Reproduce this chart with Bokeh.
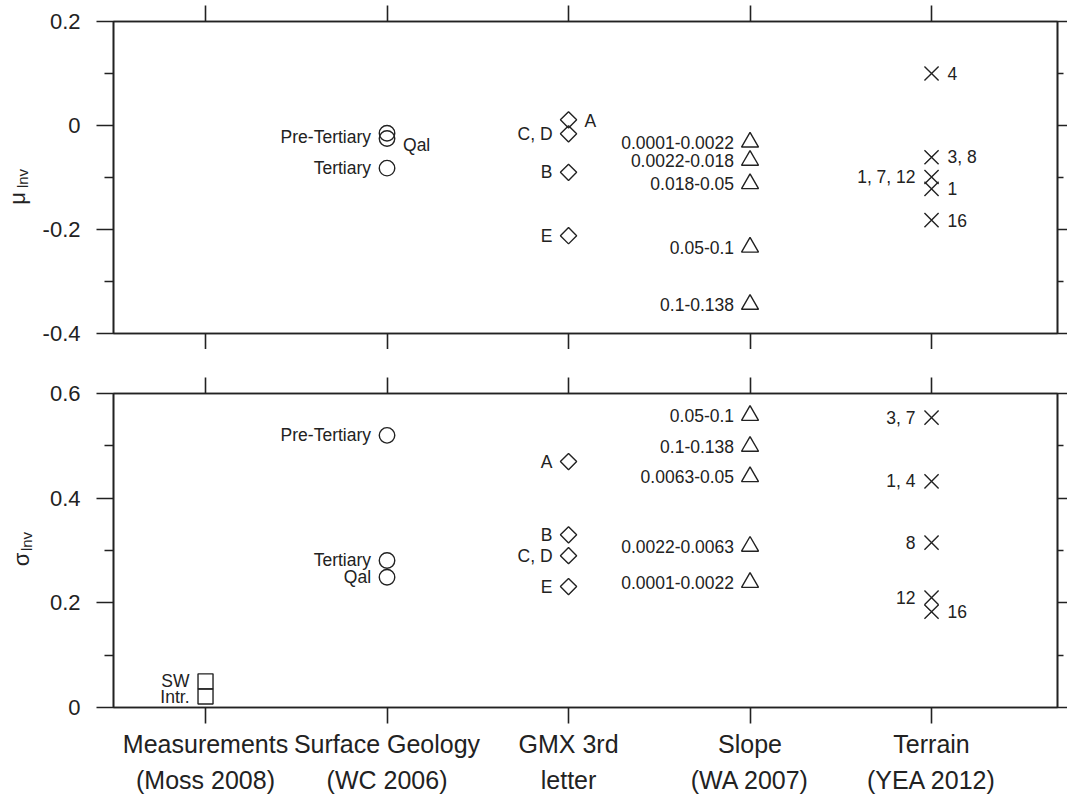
from math import pi
from bokeh.plotting import figure
from bokeh.models import (ColumnDataSource, FixedTicker, LinearAxis, Range1d,
                          CustomLabelingPolicy)
from bokeh.layouts import column, row
from bokeh.embed import file_html
from bokeh.resources import INLINE
from bokeh.core.properties import value

# ---------------- data ----------------
categories = ["Measurements\n(Moss 2008)", "Surface Geology\n(WC 2006)",
              "GMX 3rd\nletter", "Slope\n(WA 2007)", "Terrain\n(YEA 2012)"]
cat_pos = [1, 2, 3, 4, 5]

# top panel: mu_lnv
geo_mu_names = ["Pre-Tertiary", "Qal", "Tertiary"]
geo_mu = [-0.015, -0.025, -0.082]
gmx_mu_names = ["A", "C, D", "B", "E"]
gmx_mu = [0.011, -0.016, -0.090, -0.212]
slope_mu_names = ["0.0001-0.0022", "0.0022-0.018", "0.018-0.05", "0.05-0.1", "0.1-0.138"]
slope_mu = [-0.032, -0.067, -0.112, -0.234, -0.344]
terrain_mu_names = ["4", "3, 8", "1, 7, 12", "1", "16"]
terrain_mu = [0.100, -0.061, -0.099, -0.122, -0.182]

# bottom panel: sigma_lnv
meas_sd_names = ["SW", "Intr."]
meas_sd = [0.050, 0.021]
geo_sd_names = ["Pre-Tertiary", "Tertiary", "Qal"]
geo_sd = [0.520, 0.281, 0.249]
gmx_sd_names = ["A", "B", "C, D", "E"]
gmx_sd = [0.470, 0.330, 0.290, 0.231]
slope_sd_names = ["0.05-0.1", "0.1-0.138", "0.0063-0.05", "0.0022-0.0063", "0.0001-0.0022"]
slope_sd = [0.558, 0.499, 0.441, 0.308, 0.239]
terrain_sd_names = ["3, 7", "1, 4", "8", "12", "16"]
terrain_sd = [0.554, 0.432, 0.315, 0.210, 0.183]

mu_ticks = [-0.4, -0.2, 0, 0.2]
mu_minor = [-0.3, -0.1, 0.1]
mu_tick_labels = ["-0.4", "-0.2", "0", "0.2"]
sd_ticks = [0, 0.2, 0.4, 0.6]
sd_minor = [0.1, 0.3, 0.5]
sd_tick_labels = ["0", "0.2", "0.4", "0.6"]

# ---------------- layout / style ----------------
INK = "#222222"
FONT = "Liberation Sans"
X0, X1 = 0.493, 5.694
FRAME_W = 944
LAB_W = 34          # width of the narrow strip holding the y-axis titles
LEFT_B = 113 - LAB_W

# label side (L = left of marker, R = right) and small pixel shifts
geo_mu_side, geo_mu_dy = ["L", "R", "L"], [4, 6, 0]
gmx_mu_side, gmx_mu_dy = ["R", "L", "L", "L"], [1, 0, 0, 0]
slope_mu_side, slope_mu_dy = ["L"] * 5, [0] * 5
terrain_mu_side, terrain_mu_dy = ["R", "R", "L", "R", "R"], [0, 0, 0, 0, 0]
meas_sd_side, meas_sd_dy = ["L", "L"], [0, 0]
geo_sd_side, geo_sd_dy = ["L", "L", "L"], [0, 0, 0]
gmx_sd_side, gmx_sd_dy = ["L"] * 4, [0] * 4
slope_sd_side, slope_sd_dy = ["L"] * 5, [0] * 5
terrain_sd_side, terrain_sd_dy = ["L", "L", "L", "L", "R"], [0, 0, 0, 0, 0]

HIDE = CustomLabelingPolicy(code="""
try {
  for (const i of Array.from(indices)) {
    if (indices.unset) { indices.unset(i) } else { indices.set(i, false) }
  }
} catch (e) {}
return indices
""")


def style_axis(ax, tick_out, minor_out, show_labels, font_size="22px", standoff=16):
    ax.axis_line_color = INK
    ax.axis_line_width = 1.6
    ax.major_tick_line_color = INK
    ax.major_tick_line_width = 1.6
    ax.minor_tick_line_color = INK
    ax.minor_tick_line_width = 1.6
    ax.major_tick_in = 0
    ax.minor_tick_in = 0
    ax.major_tick_out = tick_out
    ax.minor_tick_out = minor_out
    ax.major_label_text_font = FONT
    ax.major_label_text_color = INK
    if show_labels:
        ax.major_label_text_font_size = font_size
        ax.major_label_standoff = standoff
    else:
        ax.major_label_text_font_size = "0px"
        ax.major_label_standoff = 0
        ax.major_label_policy = HIDE


def make_fig(yr, ticks, minor, tick_labels, frame_h, top_b, bottom_b, top_tick, bottom_labels):
    p = figure(frame_width=FRAME_W, frame_height=frame_h,
               x_range=Range1d(X0, X1), y_range=Range1d(*yr),
               output_backend="svg", toolbar_location=None,
               min_border_left=LEFT_B, min_border_right=10,
               min_border_top=top_b, min_border_bottom=bottom_b,
               x_axis_location=None, y_axis_location=None,
               background_fill_color="white", border_fill_color="white")
    p.grid.visible = False
    p.outline_line_color = INK
    p.outline_line_width = 1.6

    yt = FixedTicker(ticks=ticks, minor_ticks=minor)
    xt = FixedTicker(ticks=cat_pos, minor_ticks=[])

    left = LinearAxis(ticker=yt)
    style_axis(left, 17, 9, True)
    left.major_label_overrides = {t: s for t, s in zip(ticks, tick_labels)}
    p.add_layout(left, "left")

    right = LinearAxis(ticker=yt)
    style_axis(right, 10, 6, False)
    p.add_layout(right, "right")

    top = LinearAxis(ticker=xt)
    style_axis(top, top_tick, 0, False)
    p.add_layout(top, "above")

    bottom = LinearAxis(ticker=xt)
    if bottom_labels:
        style_axis(bottom, 16, 0, True, font_size="25px", standoff=6)
        bottom.major_label_overrides = {c: s for c, s in zip(cat_pos, categories)}
        bottom.major_label_text_line_height = 1.3
    else:
        style_axis(bottom, 16, 0, False)
    p.add_layout(bottom, "below")
    return p


def add_group(p, xpos, ys, names, sides, dys, marker, size, angle=0.0):
    src = ColumnDataSource(dict(
        x=[xpos] * len(ys), y=ys, t=names,
        xo=[-16 if s == "L" else 16 for s in sides],
        al=["right" if s == "L" else "left" for s in sides],
        yo=dys))
    p.scatter("x", "y", source=src, marker=marker, size=size, angle=angle,
              fill_color=None, line_color=INK, line_width=1.4)
    p.text("x", "y", text="t", source=src, x_offset="xo", y_offset="yo",
           text_align="al", text_baseline="middle",
           text_font=value(FONT), text_font_size=value("17.5px"), text_color=INK)


# ---------------- top panel ----------------
TOP_B1, FH1, BOT_B1 = 21, 312, 16
TOP_B2, FH2, BOT_B2 = 44, 314, 92
p1 = make_fig((-0.4, 0.2), mu_ticks, mu_minor, mu_tick_labels, FH1, TOP_B1, BOT_B1, 16, False)
add_group(p1, cat_pos[1], geo_mu, geo_mu_names, geo_mu_side, geo_mu_dy, "circle", 15.5)
add_group(p1, cat_pos[2], gmx_mu, gmx_mu_names, gmx_mu_side, gmx_mu_dy, "square", 11.5, pi / 4)
add_group(p1, cat_pos[3], slope_mu, slope_mu_names, slope_mu_side, slope_mu_dy, "triangle", 17)
add_group(p1, cat_pos[4], terrain_mu, terrain_mu_names, terrain_mu_side, terrain_mu_dy, "x", 20)

# ---------------- bottom panel ----------------
p2 = make_fig((0, 0.6), sd_ticks, sd_minor, sd_tick_labels, FH2, TOP_B2, BOT_B2, 16, True)
add_group(p2, cat_pos[0], meas_sd, meas_sd_names, meas_sd_side, meas_sd_dy, "square", 15)
add_group(p2, cat_pos[1], geo_sd, geo_sd_names, geo_sd_side, geo_sd_dy, "circle", 15.5)
add_group(p2, cat_pos[2], gmx_sd, gmx_sd_names, gmx_sd_side, gmx_sd_dy, "square", 11.5, pi / 4)
add_group(p2, cat_pos[3], slope_sd, slope_sd_names, slope_sd_side, slope_sd_dy, "triangle", 17)
add_group(p2, cat_pos[4], terrain_sd, terrain_sd_names, terrain_sd_side, terrain_sd_dy, "x", 20)

# ---------------- y-axis titles strip (μlnv, σlnv) ----------------
TOTAL_H = TOP_B1 + FH1 + BOT_B1 + TOP_B2 + FH2 + BOT_B2
lab = figure(width=LAB_W, height=TOTAL_H, x_range=Range1d(0, LAB_W),
             y_range=Range1d(TOTAL_H, 0), output_backend="svg",
             toolbar_location=None, min_border=0,
             x_axis_location=None, y_axis_location=None,
             background_fill_color="white", border_fill_color="white")
lab.grid.visible = False
lab.outline_line_color = None
ytitle_main = ["μ", "σ"]
ytitle_sub = ["lnv", "lnv"]
lab.text(x=[17, 21], y=[198, 559], text=ytitle_main, angle=pi / 2,
         text_align="center", text_baseline="middle",
         text_font=value(FONT), text_font_size=value("22px"), text_color=INK)
lab.text(x=[22, 26], y=[178, 541], text=ytitle_sub, angle=pi / 2,
         text_align="center", text_baseline="middle",
         text_font=value(FONT), text_font_size=value("15px"), text_color=INK)

layout = row(lab, column(p1, p2, spacing=0), spacing=0)
open("out.html", "w").write(file_html(layout, INLINE))
